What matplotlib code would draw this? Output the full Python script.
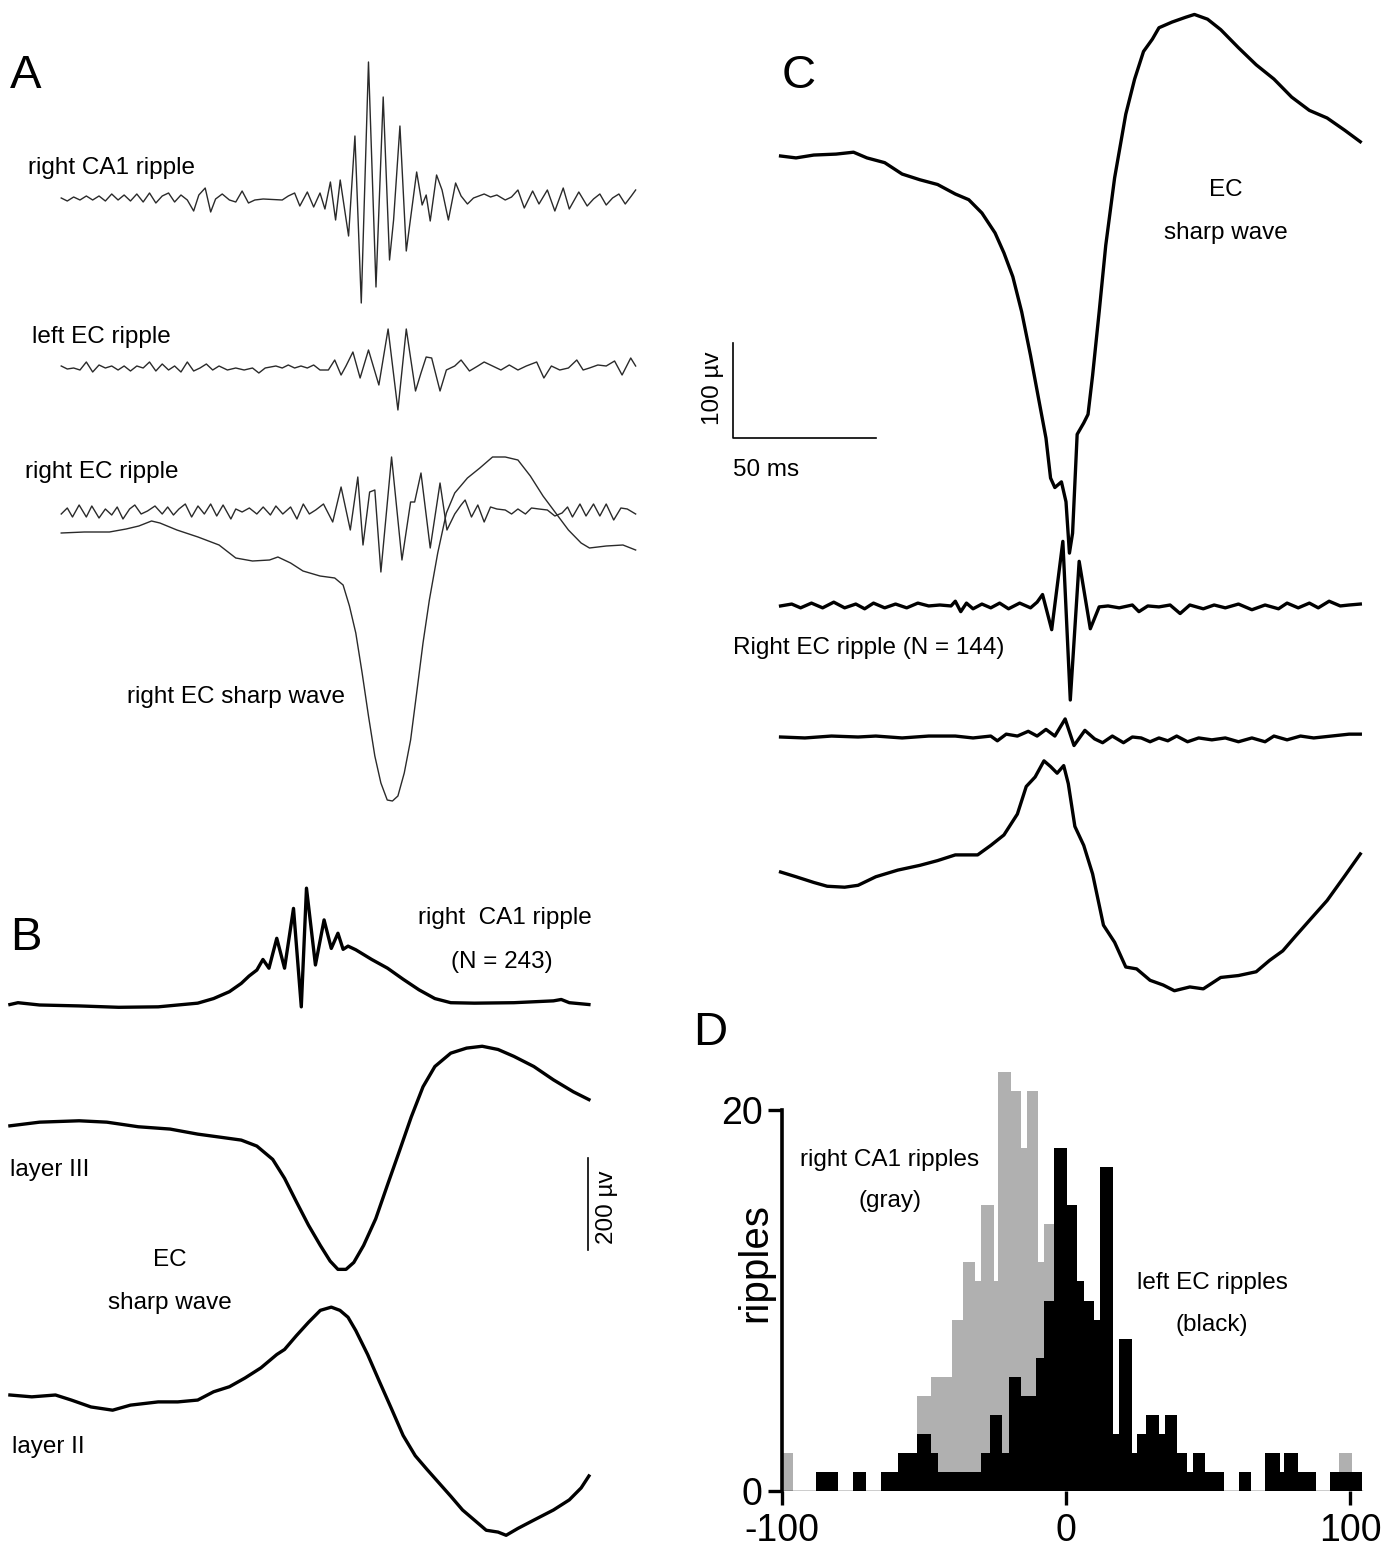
import numpy as np
import matplotlib
matplotlib.use("Agg")
import matplotlib.pyplot as plt

plt.rcParams['font.family'] = ['Liberation Sans', 'DejaVu Sans']

# ---------------- DATA ----------------
# Panel A (single event; time in ms, amplitude in arbitrary units, no scale bar)
A_ca1_t = [-99.4,-97.3,-95.1,-92.9,-90.7,-88.5,-86.3,-84.1,-81.9,-79.7,-77.6,-75.4,-73.2,-71.0,-68.8,-66.6,-64.4,-62.2,-60.1,-57.9,-55.7,-53.5,-51.7,-49.5,-47.6,-45.9,-43.6,-41.1,-38.9,-36.7,-34.5,-32.3,-29.4,-22.8,-20.7,-18.5,-16.7,-14.1,-11.9,-9.7,-8.0,-6.1,-4.3,-2.7,0.2,2.4,4.6,7.1,9.7,12.2,14.4,15.8,18.0,20.2,23.8,25.7,27.1,28.5,30.7,32.6,34.8,37.3,39.2,41.4,43.5,47.2,49.4,51.6,54.5,56.7,58.9,61.1,64.0,66.2,69.1,71.7,74.6,76.7,80.0,82.9,85.1,87.3,89.5,91.7,93.9,96.1,98.2,99.7]
A_ca1_v = [1,-2,2,-1,3,-1,3,-2,5,-1,4,-2,5,-3,6,-4,3,6,-3,4,-1,-12,4,11,-13,0,5,-1,-3,8,-4,-1,0,-1,3,6,-7,7,-8,6,-10,17,-21,19,-37,63,-104,137,-88,102,-61,-21,73,-52,27,-6,4,-22,24,9,-21,16,3,-5,1,5,2,4,-1,2,9,-9,8,-5,9,-12,11,-10,7,-7,0,5,-6,1,5,-5,3,9]

A_lec_t = [-99.4,-97.3,-95.1,-92.9,-90.7,-88.5,-86.3,-84.1,-81.9,-79.7,-77.6,-75.4,-73.2,-71.0,-68.8,-66.6,-64.4,-62.2,-60.1,-57.9,-55.7,-53.5,-51.3,-49.1,-46.9,-44.7,-41.8,-38.9,-36.0,-33.1,-30.9,-28.7,-25.0,-22.8,-20.7,-18.5,-16.3,-14.1,-11.9,-9.7,-6.8,-4.6,-2.4,-0.7,1.7,4.2,7.1,10.7,13.9,17.3,20.2,23.4,25.3,27.1,29.0,31.9,34.1,37.0,39.2,42.1,45.0,47.2,50.1,53.0,55.9,58.9,61.8,65.4,67.9,70.5,73.4,76.4,79.3,81.5,83.7,86.6,89.5,92.4,95.0,98.0,99.7]
A_lec_v = [2,-1,0,-2,6,-4,3,0,2,-2,2,-3,2,0,6,-3,4,-2,2,-4,6,-3,0,4,-2,2,-2,0,-2,0,-5,0,2,0,3,0,2,0,3,-2,-2,8,-7,2,16,-10,18,-17,39,-42,39,-23,-5,11,10,-23,-2,2,8,-3,2,6,2,-2,3,-2,2,6,-10,2,-2,0,8,-2,0,3,2,7,-7,10,2]

A_rec_t = [-99.4,-97.3,-95.5,-93.2,-90.7,-88.8,-86.3,-84.1,-81.9,-80.0,-78.0,-75.7,-73.9,-71.7,-69.5,-66.9,-64.4,-62.5,-60.5,-58.6,-56.4,-54.2,-52.0,-49.8,-47.6,-45.5,-43.3,-40.6,-38.9,-36.7,-34.2,-31.6,-29.4,-26.9,-25.0,-22.6,-19.9,-17.7,-15.5,-13.4,-11.2,-8.5,-5.3,-2.4,0.8,3.4,5.2,7.5,9.3,11.4,15.1,18.7,21.7,23.1,25.3,28.5,31.9,34.3,37.0,39.2,40.6,42.8,45.0,47.2,49.4,51.6,54.5,56.7,58.9,61.5,63.6,66.2,69.1,71.7,74.2,76.1,77.8,80.4,82.5,85.1,87.3,89.5,92.1,94.6,96.8,99.7]
A_rec_v = [-2,4,-5,7,-5,6,-6,3,-3,5,-7,3,7,-2,1,6,-2,5,-3,3,8,-5,6,-2,8,-4,7,-7,3,0,4,-2,5,-3,6,-2,5,-7,8,-2,2,8,-10,25,-18,35,-33,20,22,-60,55,-48,10,10,39,-36,29,-18,-2,7,12,-5,7,-10,5,3,2,-2,3,-2,4,3,2,-4,-1,5,-5,8,-4,8,-4,8,-8,4,3,-2]

A_sw_t = [-99.4,-91.4,-82.7,-76.9,-72.5,-68.1,-65.2,-59.3,-52.0,-44.7,-38.9,-33.1,-27.2,-24.3,-19.9,-15.6,-9.7,-4.6,-1.7,0.5,2.7,4.9,7.1,9.3,11.4,13.6,15.4,17.3,19.5,21.7,23.8,26.0,28.2,31.1,34.1,37.0,41.4,45.7,50.1,54.5,58.9,63.2,67.6,72.0,76.4,80.8,83.7,89.5,95.3,99.7]
A_sw_v = [0,1,1,4,7,12,10,3,-4,-12,-25,-28,-27,-24,-30,-38,-43,-45,-52,-73,-100,-140,-183,-223,-250,-267,-268,-263,-240,-207,-160,-110,-67,-20,20,40,55,65,76,76,73,57,37,20,3,-10,-15,-13,-12,-17]

# Panel B (averages; time in ms, amplitude in µV)
B_ca1_t = [-100.9,-98.1,-90.6,-76.9,-63.2,-49.5,-42.7,-35.8,-30.3,-24.8,-20.7,-18.0,-15.3,-13.2,-11.1,-8.4,-5.7,-2.6,0.1,1.9,5.0,8.0,10.5,12.8,14.6,16.3,19.0,24.5,30.0,35.4,40.9,46.4,51.9,60.1,73.8,87.5,90.2,93.0,99.8]
B_ca1_v = [1,5,0,-2,-5,-4,0,4,14,29,47,63,76,99,80,145,80,210,-4,254,87,185,123,156,121,128,120,99,80,56,33,14,5,4,5,9,12,5,1]

B_l3_t = [-100.9,-90.6,-76.9,-67.3,-56.4,-45.4,-35.8,-27.6,-20.7,-15.3,-9.8,-5.7,-1.6,2.6,6.7,10.1,12.8,15.6,18.3,21.7,25.9,30.0,34.1,38.2,42.3,46.4,51.9,57.4,62.8,68.3,73.8,80.7,87.5,94.4,99.8]
B_l3_v = [-4,4,7,4,-6,-11,-22,-29,-35,-48,-77,-118,-169,-220,-264,-298,-316,-316,-301,-264,-206,-132,-59,15,81,125,154,165,169,162,147,125,96,70,53]

B_l2_t = [-100.9,-93.3,-85.1,-79.6,-72.8,-65.3,-59.1,-49.5,-42.7,-35.8,-30.3,-24.8,-19.4,-13.9,-8.4,-5.7,-1.6,2.6,6.7,10.5,13.5,16.3,19.0,23.1,27.2,31.3,35.4,39.6,43.7,47.8,51.9,56.0,60.1,64.2,68.3,71.1,75.2,80.7,87.5,93.0,97.1,99.8]
B_l2_v = [0,-4,0,-11,-26,-33,-22,-15,-15,-11,7,18,37,59,88,99,129,158,184,191,184,169,140,88,29,-29,-88,-132,-162,-191,-220,-250,-272,-294,-298,-305,-290,-272,-250,-228,-202,-176]

# Panel C (averages; time in ms, amplitude in µV)
C_sw_t = [-100.5,-95.1,-88.9,-81.1,-75.0,-70.3,-64.1,-58.0,-51.8,-45.6,-39.4,-34.7,-30.1,-25.5,-22.4,-19.3,-16.2,-13.1,-10.0,-7.7,-6.1,-4.6,-2.3,-0.7,0.5,1.6,3.2,5.5,7.0,8.6,10.9,13.2,16.3,20.2,23.3,26.4,29.5,31.8,36.4,41.1,44.2,48.8,53.4,59.6,65.8,72.0,78.2,84.4,90.6,96.8,102.2]
C_sw_v = [0,-2,1,2,4,-2,-7,-19,-25,-30,-40,-46,-60,-81,-102,-127,-164,-210,-260,-297,-339,-349,-343,-364,-418,-397,-293,-281,-272,-231,-164,-94,-23,44,81,110,123,135,141,146,149,144,133,114,96,81,62,48,40,27,15]

C_rip_t = [-100.5,-96.6,-93.5,-89.7,-85.8,-81.9,-78.1,-74.2,-71.1,-68.0,-64.1,-60.3,-56.4,-52.5,-48.7,-44.8,-40.9,-39.4,-37.5,-35.5,-33.2,-30.1,-27.0,-23.9,-20.8,-16.9,-13.1,-10.8,-8.9,-5.7,-1.8,0.8,3.9,7.8,10.9,14.0,17.9,22.5,24.8,27.9,31.8,35.7,39.2,42.6,47.3,51.1,55.0,59.6,64.3,68.9,73.6,76.6,80.5,84.4,87.5,91.3,95.2,98.3,102.2]
C_rip_v = [-1,1,-3,2,-3,3,-3,1,-4,2,-3,1,-3,2,-1,0,-1,4,-7,2,-4,1,-3,2,-4,2,-3,3,11,-26,67,-100,46,-25,-2,-1,-3,0,-7,-1,-2,0,-9,0,-4,0,-3,1,-5,0,-4,2,-3,2,-3,4,-1,0,1]

C_rip2_t = [-100.5,-92.0,-82.7,-73.4,-67.2,-58.0,-48.7,-39.4,-33.2,-27.0,-24.7,-21.6,-17.7,-13.9,-10.8,-7.7,-4.6,-1.0,2.1,5.9,9.3,12.1,15.5,19.4,22.5,25.6,28.7,31.8,34.9,38.0,41.8,45.7,50.3,55.0,59.6,64.3,68.9,72.0,76.6,81.3,85.9,92.1,98.3,102.2]
C_rip2_v = [0,-1,1,0,1,-1,1,1,-1,1,-4,3,1,6,1,8,1,19,-9,7,-2,-6,1,-6,0,-1,-5,-1,-4,1,-5,-1,-3,-1,-5,-1,-5,1,-3,1,-1,1,3,3]

C_sw2_t = [-100.5,-95.1,-88.9,-84.2,-78.1,-73.4,-67.2,-59.5,-51.8,-45.6,-39.4,-31.6,-27.0,-22.4,-17.7,-14.6,-11.5,-8.4,-6.1,-3.8,-1.5,0.1,2.4,5.5,8.6,12.4,16.3,20.2,24.0,28.7,33.3,37.2,42.6,47.3,53.4,59.6,65.8,70.5,75.1,79.7,84.4,90.6,96.8,102.2]
C_sw2_v = [0,-5,-11,-15,-16,-14,-5,2,7,12,18,18,28,39,61,90,100,117,111,104,112,93,48,28,-2,-56,-74,-100,-102,-114,-119,-125,-121,-123,-111,-109,-105,-93,-83,-67,-51,-30,-4,19]

# Panel D histogram (ms relative to right EC ripple, counts)
black_edges = [-100,-88,-80.2,-74.9,-70.4,-65.3,-59,-52.3,-47.7,-44.9,-30.1,-26.6,-22.4,-20.2,-16,-10.7,-7.6,-4.4,0.2,3.7,6.5,10,11.8,16.4,18.5,23.1,25.1,28.3,32.7,34.8,39.2,42.7,44.6,49.1,55.6,60.8,65.3,70.2,75.3,76.9,81.6,88.2,93.1,104.3]
black_counts = [0,1,0,1,0,1,2,3,2,1,2,4,2,6,5,7,10,18,15,11,10,9,17,3,8,2,3,4,3,4,2,1,2,1,0,1,0,2,1,2,1,0,1]
gray_edges = [-100,-96.3,-52.3,-47.7,-40.0,-36.4,-32.2,-30.1,-25.5,-23.8,-19.5,-16.0,-13.9,-9.7,-7.6,-4.4,96.2,100.8]
gray_counts = [2,0,5,6,9,12,11,15,11,22,21,18,21,12,14,0,2]
d_xticks = [-100, 0, 100]
d_yticks = [0, 20]

# ---------------- FIGURE ----------------
W, H = 1392, 1552
fig = plt.figure(figsize=(W/100, H/100), dpi=100)
fig.patch.set_facecolor('white')


def panel(L, T, R, B, xc, sx, sy):
    """Axes covering a pixel rectangle; time 0 at pixel xc, sx px/ms, sy px/unit."""
    ax = fig.add_axes([L/W, 1 - B/H, (R-L)/W, (B-T)/H])
    ax.set_xlim((L - xc)/sx, (R - xc)/sx)
    ax.set_ylim(0, (B - T)/sy)
    ax.axis('off')
    return ax, (lambda Y: (B - Y)/sy)


def ftext(x, y, s, **kw):
    kw.setdefault('va', 'center')
    kw.setdefault('fontsize', 17.5)
    fig.text(x/W, 1 - y/H, s, **kw)

# ---- Panel A ----
axA, offA = panel(0, 40, 680, 830, 348, 2.885, 1.0)
thin = dict(color='#2a2a2a', lw=1.0, solid_joinstyle='round')
axA.plot(A_ca1_t, np.array(A_ca1_v) + offA(199), **thin)
axA.plot(A_lec_t, np.array(A_lec_v) + offA(368), **thin)
axA.plot(A_rec_t, np.array(A_rec_v) + offA(512), **thin)
axA.plot(A_sw_t, np.array(A_sw_v) + offA(533), **thin)
ftext(10, 76, 'A', fontsize=34)
ftext(28, 168, 'right CA1 ripple')
ftext(32, 337, 'left EC ripple')
ftext(25, 472, 'right EC ripple')
ftext(127, 697, 'right EC sharp wave')

# ---- Panel B ----
axB, offB = panel(0, 870, 640, 1552, 301, 2.885, 0.46)
thick = dict(color='black', lw=2.4, solid_joinstyle='round')
axB.plot(B_ca1_t, np.array(B_ca1_v) + offB(1005), **thick)
axB.plot(B_l3_t, np.array(B_l3_v) + offB(1124), **thick)
axB.plot(B_l2_t, np.array(B_l2_v) + offB(1395), **thick)
tb = (588 - 301)/2.885
axB.plot([tb, tb], [offB(1250), offB(1250) + 200], color='black', lw=1.2)
ftext(10, 938, 'B', fontsize=34)
ftext(592, 918, 'right  CA1 ripple', ha='right')
ftext(502, 962, '(N = 243)', ha='center')
ftext(10, 1170, 'layer III')
ftext(170, 1260, 'EC', ha='center')
ftext(170, 1303, 'sharp wave', ha='center')
ftext(12, 1447, 'layer II')
ftext(607, 1207, '200 µv', rotation=90, ha='center')

# ---- Panel C ----
axC, offC = panel(690, 0, 1392, 1010, 1068, 2.86, 0.95)
axC.plot(C_sw_t, np.array(C_sw_v) + offC(156), **thick)
axC.plot(C_rip_t, np.array(C_rip_v) + offC(605), **thick)
axC.plot(C_rip2_t, np.array(C_rip2_v) + offC(737), **thick)
axC.plot(C_sw2_t, np.array(C_sw2_v) + offC(872), **thick)
tc = (733 - 1068)/2.86
axC.plot([tc, tc, tc + 50], [offC(438) + 100, offC(438), offC(438)], color='black', lw=1.2)
ftext(782, 76, 'C', fontsize=34)
ftext(1226, 190, 'EC', ha='center')
ftext(1226, 233, 'sharp wave', ha='center')
ftext(713, 388, '100 µv', rotation=90, ha='center')
ftext(733, 470, '50 ms')
ftext(733, 648, 'Right EC ripple (N = 144)')

# ---- Panel D ----
sxD, syD = 2.84, 19.05
L, R, B = 764.5, 1372, 1491
T = B - 23*syD
axD = fig.add_axes([L/W, 1 - B/H, (R-L)/W, (B-T)/H])
axD.set_xlim(-100 - (782 - L)/sxD, -100 + (R - 782)/sxD)
axD.set_ylim(0, 23)
axD.stairs(gray_counts, gray_edges, fill=True, color='#b0b0b0', zorder=2)
axD.stairs(black_counts, black_edges, fill=True, color='black', zorder=3)
axD.plot([black_edges[0], black_edges[-1]], [0, 0], color='black', lw=1.0, zorder=4)
for s in ['top', 'right', 'bottom']:
    axD.spines[s].set_visible(False)
axD.spines['left'].set_position(('data', -100))
axD.spines['left'].set_bounds(0, 20)
axD.spines['left'].set_linewidth(2.6)
axD.set_xticks(d_xticks)
axD.set_xticklabels(['-100', '0', '100'])
axD.set_yticks(d_yticks)
axD.tick_params(axis='both', direction='out', length=10, width=2.4, labelsize=27)
axD.tick_params(axis='x', pad=6)
axD.tick_params(axis='y', pad=4)
axD.patch.set_alpha(0)
ftext(693, 1033, 'D', fontsize=34)
ftext(755, 1262, 'ripples', rotation=90, ha='center', fontsize=29)
ftext(890, 1160, 'right CA1 ripples', ha='center')
ftext(890, 1201, '(gray)', ha='center')
ftext(1212, 1283, 'left EC ripples', ha='center')
ftext(1212, 1325, '(black)', ha='center')

fig.savefig('out.png', dpi=100, facecolor='white')
